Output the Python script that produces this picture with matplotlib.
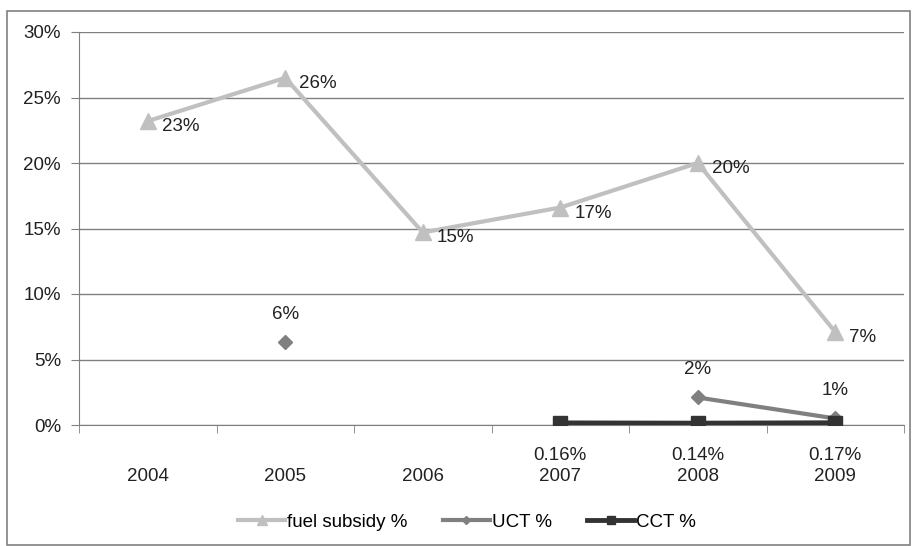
import numpy as np
import matplotlib
matplotlib.use("Agg")
import matplotlib.pyplot as plt
from matplotlib.patches import Rectangle

plt.rcParams['font.family'] = ['Liberation Sans', 'DejaVu Sans']

years = ['2004', '2005', '2006', '2007', '2008', '2009']
fuel = [23.2, 26.5, 14.7, 16.6, 20.0, 7.1]
fuel_lbl = ['23%', '26%', '15%', '17%', '20%', '7%']
uct = [np.nan, 6.3, np.nan, np.nan, 2.1, 0.5]
uct_lbl = ['', '6%', '', '', '2%', '1%']
cct = [np.nan, np.nan, np.nan, 0.16, 0.14, 0.17]
cct_lbl = ['', '', '', '0.16%', '0.14%', '0.17%']

x = np.arange(len(years))
fs = 13.5
txt = '#222222'

fig = plt.figure(figsize=(9.13, 5.46), dpi=100)
ax = fig.add_axes([79/913, 1-425/546, 825/913, 393/546])

# frame around the whole chart
fig.patches.append(Rectangle((7/913, 1/546), 903/913, 534/546, transform=fig.transFigure,
                             fill=False, edgecolor='#808080', linewidth=1.2))

ax.plot(x, fuel, color='#c0c0c0', lw=3, marker='^', ms=11, label='fuel subsidy %', zorder=3)
ax.plot(x, uct, color='#808080', lw=3, marker='D', ms=7, label='UCT %', zorder=4)
ax.plot(x, cct, color='#333333', lw=3.5, marker='s', ms=10, label='CCT %', zorder=5)

for i in range(len(years)):
    ax.annotate(fuel_lbl[i], (x[i], fuel[i]), xytext=(10, -4), textcoords='offset points',
                fontsize=fs, color=txt, ha='left', va='center')
    if uct_lbl[i]:
        ax.annotate(uct_lbl[i], (x[i], uct[i]), xytext=(0, 20), textcoords='offset points',
                    fontsize=fs, color=txt, ha='center', va='center')
    if cct_lbl[i]:
        ax.annotate(cct_lbl[i], (x[i], 0), xytext=(0, -22), textcoords='offset points',
                    fontsize=fs, color=txt, ha='center', va='center')

ax.set_xlim(-0.5, 5.5)
ax.set_ylim(0, 30)
ax.set_yticks(np.arange(0, 31, 5))
ax.set_yticklabels([f'{v}%' for v in range(0, 31, 5)])
ax.set_xticks(x)
ax.set_xticklabels(years)
ax.set_xticks(np.arange(-0.5, 6, 1), minor=True)
ax.tick_params(axis='x', which='major', length=0, pad=31, labelsize=fs, labelcolor=txt)
ax.tick_params(axis='x', which='minor', length=6, color='#808080', direction='out')
ax.tick_params(axis='y', length=6, color='#808080', labelsize=fs, labelcolor=txt, pad=7)

ax.grid(axis='y', color='#808080', lw=1)
ax.set_axisbelow(True)
for s in ['top', 'right']:
    ax.spines[s].set_visible(False)
ax.spines['left'].set_color('#808080')
ax.spines['bottom'].set_color('#808080')

fig.legend(loc='center', bbox_to_anchor=(467/913, 1-522/546), ncol=3, frameon=False,
           fontsize=fs, handlelength=2.5, handletextpad=0.1, columnspacing=1.9,
           markerscale=0.6)

fig.savefig('out.png', dpi=100)
